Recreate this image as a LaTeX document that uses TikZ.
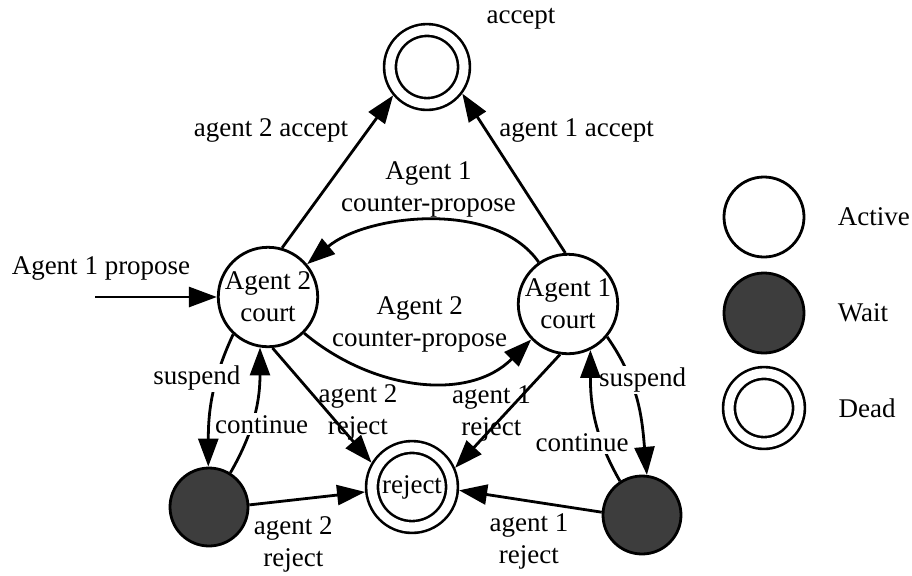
\documentclass[tikz,border=0pt]{standalone}
\usepackage{fontspec}
\setmainfont{Liberation Serif}
\usetikzlibrary{arrows.meta, positioning}
\tikzstyle{active} = [circle, draw=black, line width=1.4pt, minimum size=49pt, inner sep=0pt, align=center]
\tikzstyle{wait} = [circle, draw=black, line width=1.4pt, fill=black!76, minimum size=39pt]
\tikzstyle{dead} = [circle, draw=black, line width=1.3pt, double=white, double distance=4.6pt, outer sep=3.6pt, inner sep=0pt, minimum size=38pt]
\tikzstyle{arrow} = [line width=1.4pt, -{Triangle[length=14pt, width=10pt]}]
\tikzstyle{lbl} = [inner sep=1pt, align=center]

\begin{document}
\begin{tikzpicture}[x=0.5pt, y=-0.5pt, font=\fontsize{13.5}{16}\selectfont]
    \useasboundingbox (0,0) rectangle (912,575);

    % States
    \node (accept) [dead, minimum size=37pt] at (427,67) {};
    \node (acclbl) at (521,19) {accept};
    \node (a2) [active] at (268,297) {Agent 2\\court};
    \node (a1) [active] at (568,304) {Agent 1\\court};
    \node (reject) [dead, minimum size=40pt] at (412,487) {reject};
    \node (w2) [wait] at (209,507) {};
    \node (w1) [wait] at (642,515) {};

    % Start
    \coordinate (start) at (95,297);
    \node (proplbl) at (101,268) {Agent 1 propose};

    % Arrows
    \draw [arrow] (start) -- (a2);
    \draw [arrow] (a2.74) -- node[lbl, pos=.77, left=8pt] {agent 2 accept} (accept.-140);
    \draw [arrow] (a1.93) -- node[lbl, pos=.77, right=5pt] {agent 1 accept} (accept.-37);
    \draw [arrow] (a1.125) to[out=125, in=40, looseness=.85] node[lbl, midway, above=0pt] {Agent 1\\counter-propose} (a2.40);
    \draw [arrow] (a2.-45) to[out=-40, in=-135] node[lbl, midway, above=13pt] {Agent 2\\counter-propose} (a1.-136);
    \draw [arrow] (a2.-85) -- node[lbl, pos=.56, xshift=15pt] {agent 2\\reject} (reject.149);
    \draw [arrow] (a1.-99) -- node[lbl, pos=.52, xshift=-7pt] {agent 1\\reject} (reject.24);
    \draw [arrow] (w2.3) -- node[lbl, pos=.38, yshift=-22pt] {agent 2\\reject} (reject.186);
    \draw [arrow] (w1.176) -- node[lbl, pos=.51, yshift=-20pt] {agent 1\\reject} (reject.-4);

    % Suspend and continue
    \draw [arrow] (a2.-133) to[out=-115, in=90] node[lbl, fill=white, pos=.33, xshift=-10pt] {suspend} (w2.91);
    \draw [arrow] (w2.58) to[out=60, in=-90] node[lbl, fill=white, pos=.4, xshift=5pt] {continue} (a2.-99);
    \draw [arrow] (a1.-40) to[out=-55, in=95] node[lbl, fill=white, pos=.33, xshift=6pt] {suspend} (w1.83);
    \draw [arrow] (w1.123) to[out=120, in=-90] node[lbl, fill=white, pos=.3, xshift=-10pt] {continue} (a1.-64);

    % Legend
    \node (legactive) [active, minimum size=40pt] at (764,217) {};
    \node (legwait) [wait, minimum size=40pt] at (764,313) {};
    \node (legdead) [dead, minimum size=35pt] at (764,408) {};
    \node (txtactive) [lbl, right=15pt of legactive] {Active};
    \node (txtwait) [lbl, right=15pt of legwait] {Wait};
    \node (txtdead) [lbl, right=15pt of legdead] {Dead};

\end{tikzpicture}
\end{document}
